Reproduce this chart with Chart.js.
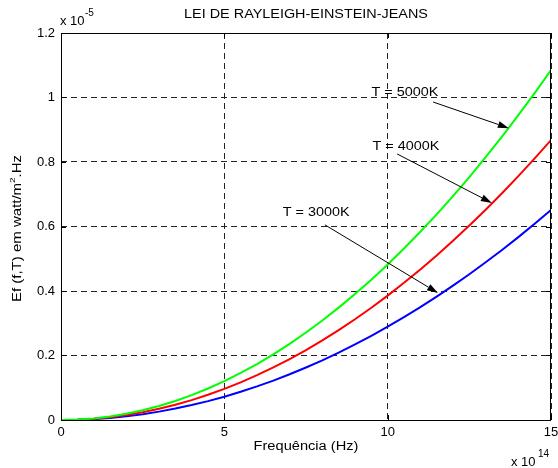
<!DOCTYPE html>
<html>
<head>
<meta charset="utf-8">
<script src="https://cdn.jsdelivr.net/npm/chart.js@4.4.1/dist/chart.umd.min.js"></script>
<style>
  html, body { margin: 0; padding: 0; background: #fff; }
  #wrap { width: 558px; height: 468px; }
</style>
</head>
<body>
<div id="wrap"><canvas id="chart" width="558" height="468"></canvas></div>
<script>
// Data (x in 1e14 Hz, y in 1e-5 W/m^2.Hz)
const freq = [0, 0.5, 1, 1.5, 2, 2.5, 3, 3.5, 4, 4.5, 5, 5.5, 6, 6.5, 7, 7.5,
              8, 8.5, 9, 9.5, 10, 10.5, 11, 11.5, 12, 12.5, 13, 13.5, 14, 14.5, 15];
const e5000 = [0, 0.0012, 0.0048, 0.0108, 0.0193, 0.0301, 0.0434, 0.0591, 0.0772, 0.0976,
               0.1206, 0.1459, 0.1736, 0.2037, 0.2363, 0.2712, 0.3086, 0.3484, 0.3906, 0.4352,
               0.4822, 0.5316, 0.5835, 0.6377, 0.6944, 0.7534, 0.8149, 0.8788, 0.9451, 1.0138, 1.085];
const e4000 = [0, 0.0010, 0.0039, 0.0087, 0.0154, 0.0241, 0.0347, 0.0473, 0.0617, 0.0781,
               0.0965, 0.1167, 0.1389, 0.1630, 0.1890, 0.2170, 0.2469, 0.2787, 0.3125, 0.3482,
               0.3858, 0.4253, 0.4668, 0.5102, 0.5556, 0.6028, 0.6520, 0.7031, 0.7562, 0.8111, 0.868];
const e3000 = [0, 0.0007, 0.0029, 0.0065, 0.0116, 0.0181, 0.0260, 0.0354, 0.0463, 0.0586,
               0.0723, 0.0875, 0.1041, 0.1222, 0.1418, 0.1627, 0.1851, 0.2090, 0.2343, 0.2611,
               0.2893, 0.3190, 0.3500, 0.3826, 0.4166, 0.4520, 0.4890, 0.5272, 0.5670, 0.6083, 0.651];
const xTicks = [0, 5, 10, 15];
const yTicks = [0, 0.2, 0.4, 0.6, 0.8, 1, 1.2];
const seriesNames = ['T = 5000K', 'T = 4000K', 'T = 3000K'];

// annotation anchors, in data units
const notes = [
    { text: seriesNames[0], at: [10.53, 1.014], from: [11.39, 0.986], to: [13.71, 0.905] },
    { text: seriesNames[1], at: [10.56, 0.847], from: [10.29, 0.825], to: [13.19, 0.673] },
    { text: seriesNames[2], at: [7.81, 0.642], from: [8.08, 0.605], to: [11.54, 0.394] }
];

const FONT = '"Liberation Sans", Arial, Helvetica, sans-serif';

function toPoints(ys) {
    return freq.map((f, i) => ({ x: f, y: ys[i] }));
}

// text is a bit wider in the reference than plain Arial
function wideText(ctx, str, x, y, size, sx) {
    ctx.save();
    ctx.translate(x, y);
    ctx.scale(sx, 1);
    ctx.font = size + 'px ' + FONT;
    ctx.textAlign = 'center';
    ctx.textBaseline = 'middle';
    ctx.fillText(str, 0, 0);
    ctx.restore();
}

function arrow(ctx, x1, y1, x2, y2) {
    const ang = Math.atan2(y2 - y1, x2 - x1);
    const len = 11, half = 3.5;
    const bx = x2 - len * Math.cos(ang), by = y2 - len * Math.sin(ang);
    ctx.beginPath();
    ctx.moveTo(x1, y1);
    ctx.lineTo(bx, by);
    ctx.stroke();
    ctx.beginPath();
    ctx.moveTo(x2, y2);
    ctx.lineTo(bx + half * Math.sin(ang), by - half * Math.cos(ang));
    ctx.lineTo(bx - half * Math.sin(ang), by + half * Math.cos(ang));
    ctx.closePath();
    ctx.fill();
}

const decorations = {
    id: 'decorations',
    afterDraw(chart) {
        const ctx = chart.ctx;
        const ca = chart.chartArea;
        const xs = chart.scales.x, ys = chart.scales.y;
        ctx.save();
        ctx.strokeStyle = '#000';
        ctx.fillStyle = '#000';
        ctx.lineWidth = 1;
        ctx.setLineDash([]);

        // axes box
        ctx.strokeRect(ca.left + 0.5, ca.top + 0.5, ca.right - ca.left - 1, ca.bottom - ca.top);

        // inward tick marks on all four sides
        ctx.beginPath();
        xTicks.forEach(v => {
            const px = Math.round(xs.getPixelForValue(v)) + 0.5;
            ctx.moveTo(px, ca.bottom); ctx.lineTo(px, ca.bottom - 5);
            ctx.moveTo(px, ca.top); ctx.lineTo(px, ca.top + 5);
        });
        yTicks.forEach(v => {
            const py = Math.round(ys.getPixelForValue(v)) + 0.5;
            ctx.moveTo(ca.left, py); ctx.lineTo(ca.left + 5, py);
            ctx.moveTo(ca.right, py); ctx.lineTo(ca.right - 5, py);
        });
        ctx.stroke();

        // title
        const cx = (ca.left + ca.right) / 2;
        wideText(ctx, 'LEI DE RAYLEIGH-EINSTEIN-JEANS', cx, 15, 12, 1.2);

        // x axis title
        wideText(ctx, 'Frequência (Hz)', cx, 447, 12, 1.22);

        // y axis title with superscript
        ctx.save();
        ctx.translate(18, (ca.top + ca.bottom) / 2 + 2);
        ctx.rotate(-Math.PI / 2);
        ctx.scale(1.25, 1);
        ctx.textBaseline = 'middle';
        ctx.textAlign = 'left';
        const p1 = 'Ef (f,T) em watt/m', p2 = '2', p3 = '.Hz';
        ctx.font = '12px ' + FONT;
        const w1 = ctx.measureText(p1).width, w3 = ctx.measureText(p3).width;
        ctx.font = '8px ' + FONT;
        const w2 = ctx.measureText(p2).width;
        let sx = -(w1 + w2 + w3) / 2;
        ctx.font = '12px ' + FONT;
        ctx.fillText(p1, sx, 0);
        ctx.font = '8px ' + FONT;
        ctx.fillText(p2, sx + w1, -5);
        ctx.font = '12px ' + FONT;
        ctx.fillText(p3, sx + w1 + w2, 0);
        ctx.restore();

        // exponent markers
        ctx.textAlign = 'left';
        ctx.textBaseline = 'alphabetic';
        ctx.font = '13px ' + FONT;
        ctx.fillText('x 10', 60, 25);
        ctx.font = '10px ' + FONT;
        ctx.fillText('-5', 85, 16);
        ctx.font = '13px ' + FONT;
        ctx.fillText('x 10', 511, 466);
        ctx.font = '10px ' + FONT;
        ctx.fillText('14', 538, 457);

        // annotations with arrows
        ctx.lineWidth = 1;
        notes.forEach(n => {
            wideText(ctx, n.text, xs.getPixelForValue(n.at[0]), ys.getPixelForValue(n.at[1]), 12, 1.2);
            arrow(ctx,
                xs.getPixelForValue(n.from[0]), ys.getPixelForValue(n.from[1]),
                xs.getPixelForValue(n.to[0]), ys.getPixelForValue(n.to[1]));
        });
        ctx.restore();
    }
};

const gridStyle = { color: '#222', lineWidth: 1, drawTicks: false };

new Chart(document.getElementById('chart'), {
    type: 'line',
    data: {
        datasets: [
            { label: seriesNames[0], data: toPoints(e5000), borderColor: '#00ff00' },
            { label: seriesNames[1], data: toPoints(e4000), borderColor: '#ff0000' },
            { label: seriesNames[2], data: toPoints(e3000), borderColor: '#0000ff' }
        ]
    },
    options: {
        responsive: false,
        animation: false,
        devicePixelRatio: 1,
        layout: { padding: { left: 0, right: 7, top: 33, bottom: 0 } },
        elements: {
            line: { borderWidth: 2, tension: 0, fill: false },
            point: { radius: 0 }
        },
        plugins: {
            legend: { display: false },
            title: { display: false },
            tooltip: { enabled: false }
        },
        scales: {
            x: {
                type: 'linear',
                min: 0,
                max: 15,
                grid: gridStyle,
                border: { display: false, dash: [6, 4] },
                afterBuildTicks: s => { s.ticks = xTicks.map(v => ({ value: v })); },
                afterFit: s => { s.height = 48; s.paddingLeft = 0; s.paddingRight = 0; },
                ticks: {
                    color: '#000',
                    padding: 5,
                    maxRotation: 0,
                    autoSkip: false,
                    font: { family: FONT, size: 13 },
                    callback: v => String(v)
                }
            },
            y: {
                type: 'linear',
                min: 0,
                max: 1.2,
                grid: gridStyle,
                border: { display: false, dash: [6, 4] },
                afterBuildTicks: s => { s.ticks = yTicks.map(v => ({ value: v })); },
                afterFit: s => { s.width = 61; s.paddingTop = 0; s.paddingBottom = 0; },
                ticks: {
                    color: '#000',
                    padding: 6,
                    autoSkip: false,
                    font: { family: FONT, size: 13 },
                    callback: v => (v === 0 || v === 1) ? String(v) : v.toFixed(1)
                }
            }
        }
    },
    plugins: [decorations]
});
</script>
</body>
</html>
